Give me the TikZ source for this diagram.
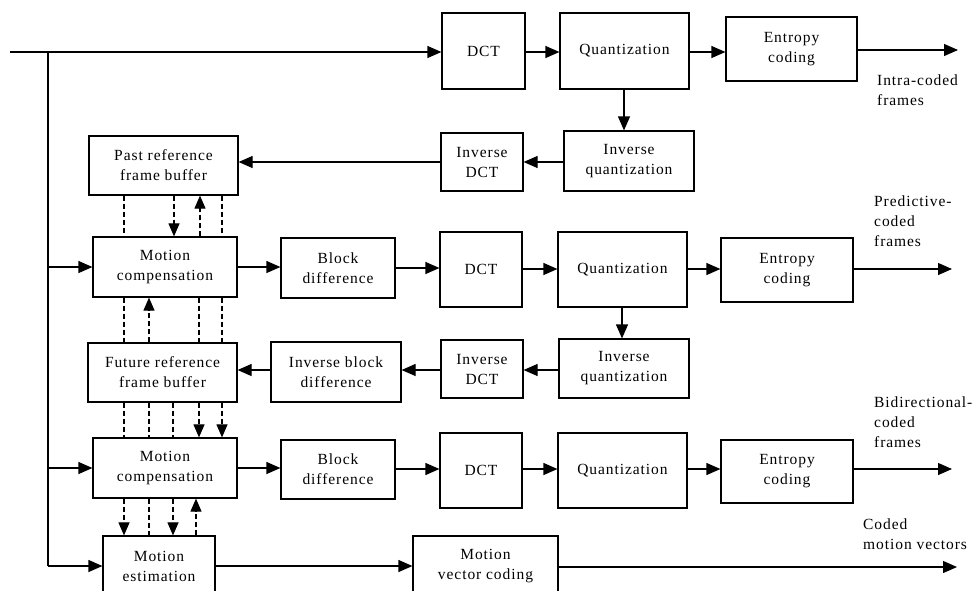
\documentclass[tikz,border=0pt]{standalone}
\usepackage{fontspec}
\setmainfont{Liberation Serif}[LetterSpace=6]
\usetikzlibrary{arrows.meta}
\begin{document}
\begin{tikzpicture}[x=1pt,y=-1pt,
  every node/.style={font=\fontsize{15.5}{20}\selectfont},
  box/.style={draw, line width=1.2pt, inner sep=0pt, align=center},
  arr/.style={line width=1.2pt, -{Triangle[length=14pt,width=12pt]}},
  ln/.style={line width=1.2pt},
  dsh/.style={line width=1.1pt, dash pattern=on 5pt off 3pt},
  darr/.style={dsh, -{Triangle[length=13pt,width=11pt]}},
  lbl/.style={align=left, anchor=west, inner sep=0pt}]
\useasboundingbox (0,0) rectangle (973,590);
\clip (0,0) rectangle (973,590);
% row 1
\node[box, minimum width=83, minimum height=76] (dct1) at (483.5,51) {DCT};
\node[box, minimum width=129, minimum height=76] (q1) at (624.5,51) {Quantization};
\node[box, minimum width=131, minimum height=64] (ent1) at (791.5,49) {Entropy\\coding};
% row 2
\node[box, minimum width=130, minimum height=60] (iq1) at (629,161) {Inverse\\quantization};
\node[box, minimum width=82, minimum height=58] (idct1) at (482,162) {Inverse\\DCT};
\node[box, minimum width=149, minimum height=59] (past) at (163.5,165.5) {Past reference\\frame buffer};
% row 3
\node[box, minimum width=144, minimum height=60] (mc1) at (165,267) {Motion\\compensation};
\node[box, minimum width=114, minimum height=60] (bd1) at (338,268) {Block\\difference};
\node[box, minimum width=82, minimum height=75] (dct2) at (481,269.5) {DCT};
\node[box, minimum width=129, minimum height=75] (q2) at (622.5,269.5) {Quantization};
\node[box, minimum width=132, minimum height=64] (ent2) at (787,270) {Entropy\\coding};
% row 4
\node[box, minimum width=149, minimum height=59] (fut) at (162.5,372.5) {Future reference\\frame buffer};
\node[box, minimum width=130, minimum height=60] (ibd) at (336,372) {Inverse block\\difference};
\node[box, minimum width=82, minimum height=58] (idct2) at (482,369) {Inverse\\DCT};
\node[box, minimum width=130, minimum height=59] (iq2) at (624,368.5) {Inverse\\quantization};
% row 5
\node[box, minimum width=144, minimum height=60] (mc2) at (165,468) {Motion\\compensation};
\node[box, minimum width=114, minimum height=59] (bd2) at (338,469.5) {Block\\difference};
\node[box, minimum width=82, minimum height=75] (dct3) at (481,470.5) {DCT};
\node[box, minimum width=129, minimum height=75] (q3) at (622.5,470.5) {Quantization};
\node[box, minimum width=132, minimum height=63] (ent3) at (787,471.5) {Entropy\\coding};
% row 6
\node[box, minimum width=112, minimum height=60] (me) at (159,566) {Motion\\estimation};
\node[box, minimum width=145, minimum height=60] (mvc) at (485.5,566) {Motion\\vector coding};
% labels
\node[lbl] (l1) at (877,90) {Intra-coded\\frames};
\node[lbl] (l2) at (874,221) {Predictive-\\coded\\frames};
\node[lbl] (l3) at (874,422) {Bidirectional-\\coded\\frames};
\node[lbl] (l4) at (863,534) {Coded\\motion vectors};
% coordinates
\coordinate (in) at (10,52);
\coordinate (split) at (48,52);
\coordinate (bot) at (48,566);
\coordinate (o1) at (958,50);
\coordinate (o2) at (952,269);
\coordinate (o3) at (952,469);
\coordinate (o4) at (957,567);
% top row
\draw[arr] (in) -- (dct1.west |- in);
\draw[ln] (split) -- (bot);
\draw[arr] (dct1.east |- 0,52) -- (q1.west |- 0,52);
\draw[arr] (q1.east |- 0,52) -- (ent1.west |- 0,52);
\draw[arr] (ent1.east |- o1) -- (o1);
\draw[arr] (q1.south -| 624,0) -- (iq1.north -| 624,0);
\draw[arr] (iq1.west |- 0,162) -- (idct1.east |- 0,162);
\draw[arr] (idct1.west |- 0,162) -- (past.east |- 0,162);
% P row
\draw[arr] (split |- mc1) -- (mc1.west);
\draw[arr] (mc1.east) -- (bd1.west |- mc1);
\draw[arr] (bd1.east) -- (dct2.west |- bd1);
\draw[arr] (dct2.east |- 0,269) -- (q2.west |- 0,269);
\draw[arr] (q2.east |- 0,269) -- (ent2.west |- 0,269);
\draw[arr] (ent2.east |- o2) -- (o2);
\draw[arr] (q2.south -| 622,0) -- (iq2.north -| 622,0);
\draw[arr] (iq2.west |- 0,370) -- (idct2.east |- 0,370);
\draw[arr] (idct2.west |- 0,370) -- (ibd.east |- 0,370);
\draw[arr] (ibd.west |- 0,370) -- (fut.east |- 0,370);
% B row
\draw[arr] (split |- mc2) -- (mc2.west);
\draw[arr] (mc2.east) -- (bd2.west |- mc2);
\draw[arr] (bd2.east |- 0,469) -- (dct3.west |- 0,469);
\draw[arr] (dct3.east |- 0,469) -- (q3.west |- 0,469);
\draw[arr] (q3.east |- 0,469) -- (ent3.west |- 0,469);
\draw[arr] (ent3.east |- o3) -- (o3);
% motion estimation row
\draw[arr] (split |- me) -- (bot) -- (me.west);
\draw[arr] (me.east) -- (mvc.west);
\draw[arr] (mvc.east |- o4) -- (o4);
% dashed: past <-> mc1
\draw[dsh] (past.south -| 124,0) -- (mc1.north -| 124,0);
\draw[darr] (past.south -| 174,0) -- (mc1.north -| 174,0);
\draw[darr] (mc1.north -| 200,0) -- (past.south -| 200,0);
\draw[dsh] (past.south -| 222,0) -- (mc1.north -| 222,0);
% dashed: mc1 <-> fut
\draw[dsh] (mc1.south -| 124,0) -- (fut.north -| 124,0);
\draw[darr] (fut.north -| 149,0) -- (mc1.south -| 149,0);
\draw[dsh] (mc1.south -| 199,0) -- (fut.north -| 199,0);
\draw[dsh] (mc1.south -| 222,0) -- (fut.north -| 222,0);
% dashed: fut <-> mc2
\draw[dsh] (fut.south -| 124,0) -- (mc2.north -| 124,0);
\draw[dsh] (fut.south -| 149,0) -- (mc2.north -| 149,0);
\draw[dsh] (fut.south -| 173,0) -- (mc2.north -| 173,0);
\draw[darr] (fut.south -| 199,0) -- (mc2.north -| 199,0);
\draw[darr] (fut.south -| 222,0) -- (mc2.north -| 222,0);
% dashed: mc2 <-> me
\draw[darr] (mc2.south -| 124,0) -- (me.north -| 124,0);
\draw[dsh] (mc2.south -| 149,0) -- (me.north -| 149,0);
\draw[darr] (mc2.south -| 173,0) -- (me.north -| 173,0);
\draw[darr] (me.north -| 196,0) -- (mc2.south -| 196,0);
\end{tikzpicture}
\end{document}
